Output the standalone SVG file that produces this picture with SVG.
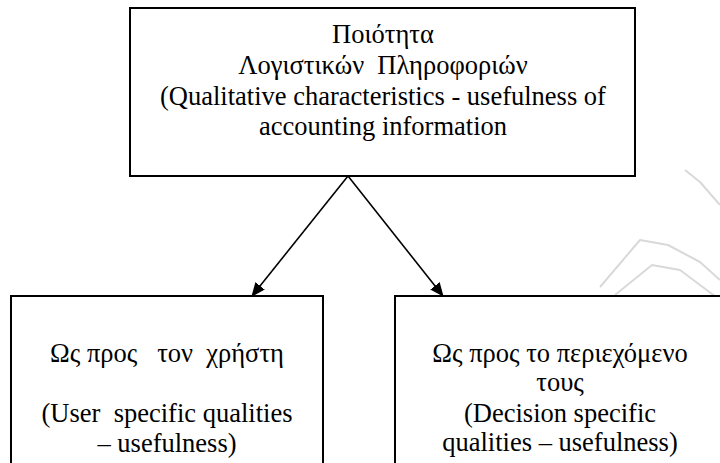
<svg xmlns="http://www.w3.org/2000/svg" width="720" height="463" viewBox="0 0 720 463">
<style>
.box{fill:#fff;stroke:#000;stroke-width:2}
.wm{fill:none;stroke:#d9d9d9;stroke-width:2;stroke-linejoin:round}
.c{stroke:#000;stroke-width:1.6;fill:none}
</style>
<defs>
<marker id="ah" markerWidth="14" markerHeight="12" refX="13" refY="6" orient="auto" markerUnits="userSpaceOnUse">
<path d="M0,0 L14,6 L0,12 Z" fill="#000"/>
</marker>
</defs>
<rect width="720" height="463" fill="#fff"/>
<g id="watermark">
<polyline class="wm" points="685,170 700,182 720,205"/>
<polyline class="wm" points="600,287 640,240 668,245 700,262 720,280"/>
<polyline class="wm" points="615,295 652,265 680,270 720,300"/>
</g>
<g id="top">
<rect class="box" x="130" y="8" width="505" height="168"/>
<text font-family="Liberation Serif, serif" font-size="26.5" text-anchor="middle" x="383" y="43">Ποιότητα</text>
<text font-family="Liberation Serif, serif" font-size="26.5" text-anchor="middle" x="383" y="74">Λογιστικών &#160;Πληροφοριών</text>
<text font-family="Liberation Serif, serif" font-size="26.5" text-anchor="middle" x="383" y="105">(Qualitative characteristics - usefulness of</text>
<text font-family="Liberation Serif, serif" font-size="26.5" text-anchor="middle" x="383" y="135">accounting information</text>
</g>
<g id="left">
<rect class="box" x="11" y="296" width="312" height="180"/>
<text font-family="Liberation Serif, serif" font-size="26.5" text-anchor="middle" x="167" y="362">Ως προς &#160; τον &#160;χρήστη</text>
<text font-family="Liberation Serif, serif" font-size="26.5" text-anchor="middle" x="167" y="422">(User &#160;specific qualities</text>
<text font-family="Liberation Serif, serif" font-size="26.5" text-anchor="middle" x="167" y="452">– usefulness)</text>
</g>
<g id="right">
<rect class="box" x="395" y="296" width="330" height="180"/>
<text font-family="Liberation Serif, serif" font-size="26.5" text-anchor="middle" x="560" y="362">Ως προς το περιεχόμενο</text>
<text font-family="Liberation Serif, serif" font-size="26.5" text-anchor="middle" x="560" y="391">τους</text>
<text font-family="Liberation Serif, serif" font-size="26.5" text-anchor="middle" x="560" y="422">(Decision specific</text>
<text font-family="Liberation Serif, serif" font-size="26.5" text-anchor="middle" x="560" y="451">qualities – usefulness)</text>
</g>
<g id="connectors">
<line class="c" x1="348" y1="176" x2="252" y2="296" marker-end="url(#ah)"/>
<line class="c" x1="348" y1="176" x2="443" y2="296" marker-end="url(#ah)"/>
</g>
</svg>
